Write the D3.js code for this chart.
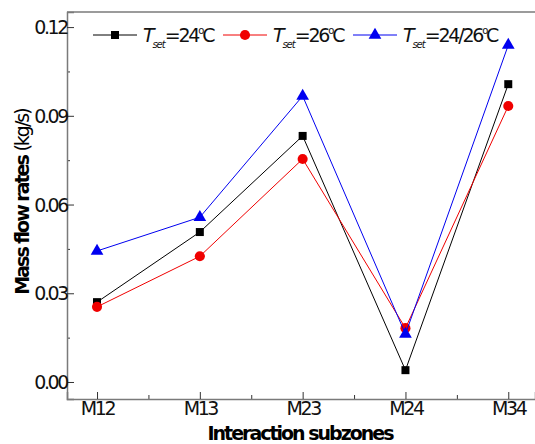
<!DOCTYPE html>
<html>
<head>
<meta charset="utf-8">
<script src="https://d3js.org/d3.v7.min.js"></script>
<style>
body { margin: 0; background: #fff; }
.tick text { font-family: "DejaVu Sans", sans-serif; font-size: 19px; letter-spacing: -2.4px; fill: #111; }
</style>
</head>
<body>
<svg width="535" height="444"></svg>
<script>
var zones = ["M12", "M13", "M23", "M24", "M34"];
var flow24 = [0.027, 0.0507, 0.0832, 0.004, 0.1007];
var flow26 = [0.0254, 0.0425, 0.0754, 0.0182, 0.0933];
var flow2426 = [0.0443, 0.0557, 0.0967, 0.0162, 0.1139];
var yTicks = [0, 0.03, 0.06, 0.09, 0.12];
var seriesNames = ["24", "26", "24/26"];

var series = [
	{"name": seriesNames[0], "values": flow24, "color": "#000000", "shape": d3.symbolSquare, "size": 64},
	{"name": seriesNames[1], "values": flow26, "color": "#f00000", "shape": d3.symbolCircle, "size": 80},
	{"name": seriesNames[2], "values": flow2426, "color": "#0000f0", "shape": d3.symbolTriangle, "size": 70}
];

var svg = d3.select("svg");
var plotL = 67, plotR = 535, plotT = 12, plotB = 399;
var axisColor = "#7a7a7a";

var x = d3.scaleLinear().domain([-0.292, 4.26]).range([plotL, plotR]);
var y = d3.scaleLinear().domain([-0.00575, 0.1251]).range([plotB, plotT]);

// frame line on top
svg.append("line").attr("x1", plotL).attr("x2", plotR).attr("y1", plotT).attr("y2", plotT)
.style("stroke", axisColor).style("stroke-width", 1.5);

// minor ticks
svg.append("g")
.attr("transform", "translate(" + plotL + ",0)")
.call(d3.axisRight(y).tickValues([0.015, 0.045, 0.075, 0.105]).tickFormat("").tickSize(3))
.call(function (g) { g.select(".domain").remove(); g.selectAll("line").style("stroke", "#333"); });

svg.append("g")
.attr("transform", "translate(0," + plotB + ")")
.call(d3.axisTop(x).tickValues([0.5, 1.5, 2.5, 3.5]).tickFormat("").tickSize(4))
.call(function (g) { g.select(".domain").remove(); g.selectAll("line").style("stroke", "#333"); });

// y axis
var yAxis = svg.append("g")
.attr("transform", "translate(" + plotL + ",0)")
.call(d3.axisRight(y).tickValues(yTicks).tickFormat(d3.format(".2f")).tickSize(7));
yAxis.selectAll(".tick text").attr("x", 0).attr("text-anchor", "end").attr("dy", "0.35em");
yAxis.selectAll(".tick line").style("stroke", "#333");
yAxis.select(".domain").style("stroke", axisColor).style("stroke-width", 1.5);

// x axis
var xAxis = svg.append("g")
.attr("transform", "translate(0," + plotB + ")")
.call(d3.axisTop(x).tickValues(d3.range(zones.length)).tickFormat(function (i) { return zones[i]; }).tickSize(7));
xAxis.selectAll(".tick text").attr("y", 2).attr("dy", "0.75em");
xAxis.selectAll(".tick line").style("stroke", "#333");
xAxis.select(".domain").style("stroke", axisColor).style("stroke-width", 1.5);

var line = d3.line().x(function (d, i) { return x(i); }).y(function (d) { return y(d); });

series.forEach(function (s) {
	svg.append("path")
	.attr("d", line(s.values))
	.style("fill", "none")
	.style("stroke", s.color)
	.style("stroke-width", 1);

	svg.selectAll(null).data(s.values).enter().append("path")
	.attr("d", d3.symbol().type(s.shape).size(s.size))
	.attr("transform", function (d, i) { return "translate(" + x(i) + "," + y(d) + ")"; })
	.style("fill", s.color);
});

// legend
var legendX = [93, 223, 353];
series.forEach(function (s, i) {
	var lx = legendX[i], ly = 35;
	svg.append("line").attr("x1", lx).attr("x2", lx + 44).attr("y1", ly).attr("y2", ly)
	.style("stroke", s.color).style("stroke-width", 1);
	svg.append("path")
	.attr("d", d3.symbol().type(s.shape).size(s.size))
	.attr("transform", "translate(" + (lx + 22) + "," + ly + ")")
	.style("fill", s.color);

	var t = svg.append("text")
	.attr("x", lx + 50).attr("y", ly + 7)
	.style("font-family", "DejaVu Sans, sans-serif")
	.style("font-size", "19px")
	.style("letter-spacing", "-2.2px")
	.style("fill", "#111");
	t.append("tspan").text("T").style("font-style", "italic");
	t.append("tspan").text("set").attr("dy", 6).style("font-size", "10px").style("font-style", "italic").style("letter-spacing", "-1px");
	t.append("tspan").text("=" + s.name).attr("dy", -6);
	t.append("tspan").text("o").attr("dy", -8).style("font-size", "10px");
	t.append("tspan").text("C").attr("dy", 8);
});

// axis titles
svg.append("text")
.attr("x", 300).attr("y", 440)
.attr("text-anchor", "middle")
.style("font-family", "DejaVu Sans, sans-serif")
.style("font-size", "19px")
.style("font-weight", "bold")
.style("letter-spacing", "-2px")
.text("Interaction subzones");

var yt = svg.append("text")
.attr("transform", "translate(29,202) rotate(-90)")
.attr("text-anchor", "middle")
.style("font-family", "DejaVu Sans, sans-serif")
.style("font-size", "19px")
.style("letter-spacing", "-2px");
yt.append("tspan").text("Mass flow rates ").style("font-weight", "bold");
yt.append("tspan").text("(kg/s)");
</script>
</body>
</html>
